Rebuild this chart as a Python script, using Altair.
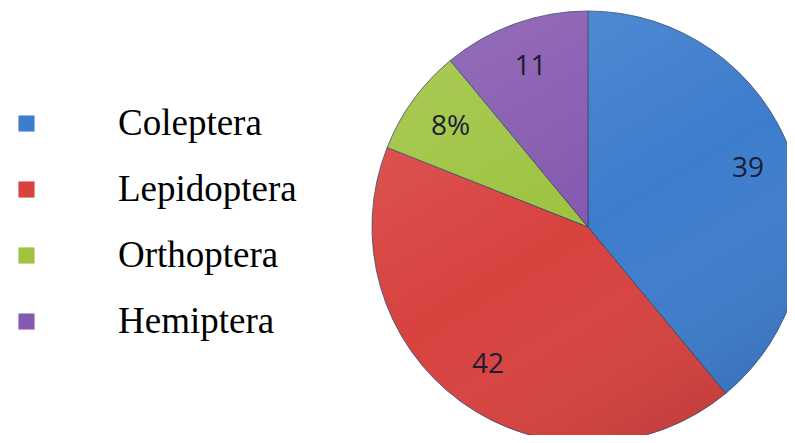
import altair as alt
import pandas as pd

orders = ["Coleptera", "Lepidoptera", "Orthoptera", "Hemiptera"]
values = [39, 42, 8, 11]
labels = ["39", "42", "8%", "11"]
ranks = [0, 1, 2, 3]
colors = ["#3D7DCD", "#D8423F", "#9DC33F", "#8559AF"]

df = pd.DataFrame({"order": orders, "value": values, "label": labels, "rank": ranks})

cx, cy, R = 580, 219, 216

base = alt.Chart(df).encode(
    theta=alt.Theta("value:Q", stack=True),
    order=alt.Order("rank:Q"),
)

pie = base.mark_arc(radius=R, stroke="#34466a", strokeWidth=0.8).encode(
    x=alt.value(cx),
    y=alt.value(cy),
    color=alt.Color(
        "order:N",
        scale=alt.Scale(domain=orders, range=colors),
        sort=orders,
        legend=alt.Legend(
            title=None,
            orient="none",
            legendX=0,
            legendY=97,
            symbolType="square",
            symbolSize=260,
            symbolStrokeWidth=0,
            labelFontSize=37,
            labelFont="Liberation Serif",
            labelColor="#000000",
            labelOffset=73,
            labelLimit=400,
            rowPadding=28,
        ),
    ),
)

shade = alt.Chart(pd.DataFrame({"a": [0]})).mark_arc(
    radius=R,
    color=alt.LinearGradient(
        gradient="linear",
        stops=[
            alt.GradientStop(color="rgba(255,255,255,0.12)", offset=0),
            alt.GradientStop(color="rgba(255,255,255,0.0)", offset=0.5),
            alt.GradientStop(color="rgba(0,0,0,0.12)", offset=1),
        ],
        x1=0.2, x2=0.8, y1=0, y2=1,
    ),
).encode(
    x=alt.value(cx),
    y=alt.value(cy),
    theta=alt.value(0),
    theta2=alt.value(6.2832),
)

text = base.mark_text(
    radius=170, fontSize=28, font="Open Sans", color="#1c1c34"
).encode(
    x=alt.value(cx),
    y=alt.value(cy),
    text="label:N",
)

chart = (
    alt.layer(pie, shade, text)
    .properties(
        width=779,
        height=427,
        autosize=alt.AutoSizeParams(type="none"),
        padding=0,
        background="white",
    )
    .configure_view(stroke=None)
)

chart.save("out.html", embed_options={"renderer": "svg", "actions": False})
